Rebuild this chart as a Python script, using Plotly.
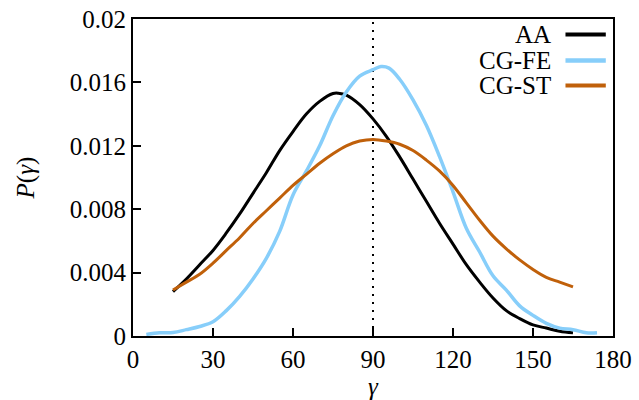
import plotly.graph_objects as go

# ---- data ----
aa_x = [15, 20, 25, 30, 35, 40, 45, 50, 55, 60, 65, 70, 75, 77, 80, 85, 90, 95, 100,
        105, 110, 115, 120, 125, 130, 135, 140, 145, 150, 155, 160, 165]
aa_y = [0.0028, 0.0036, 0.0045, 0.0054, 0.0065, 0.0077, 0.0090, 0.0103, 0.0117, 0.0129,
        0.0140, 0.0148, 0.0153, 0.01532, 0.0152, 0.0146, 0.0137, 0.0126, 0.0113,
        0.0099, 0.0085, 0.0071, 0.0058, 0.0045, 0.0034, 0.0024, 0.0016, 0.0011,
        0.0007, 0.0005, 0.0003, 0.0002]

fe_x = [5, 10, 15, 20, 25, 30, 35, 40, 45, 50, 55, 60, 65, 70, 75, 80, 85, 90, 93, 96,
        100, 105, 110, 115, 120, 125, 130, 135, 140, 145, 150, 155, 160, 165, 170, 174]
fe_y = [0.0001, 0.0002, 0.00022, 0.0004, 0.0006, 0.0009, 0.0016, 0.0025, 0.0036, 0.0049,
        0.0066, 0.0089, 0.0104, 0.0120, 0.0139, 0.0154, 0.0164, 0.0168, 0.0170, 0.0169,
        0.0162, 0.0149, 0.0133, 0.0113, 0.0091, 0.0068, 0.0053, 0.0038, 0.0029, 0.0019,
        0.0013, 0.0008, 0.0005, 0.0004, 0.0002, 0.0002]

st_x = [15, 20, 25, 30, 35, 40, 45, 50, 55, 60, 65, 70, 75, 80, 85, 90, 95, 100, 105,
        110, 115, 120, 125, 130, 135, 140, 145, 150, 155, 160, 165]
st_y = [0.0029, 0.0034, 0.0039, 0.0046, 0.0054, 0.0062, 0.0071, 0.0079, 0.0087, 0.0095,
        0.0102, 0.0109, 0.0115, 0.0120, 0.0123, 0.0124, 0.0123, 0.0121, 0.0117, 0.0111,
        0.0104, 0.0095, 0.0084, 0.0073, 0.0063, 0.0055, 0.0048, 0.0042, 0.0037, 0.0034,
        0.0031]

ref_x = [90, 90]
ref_y = [0, 0.02]

x_ticks = [0, 30, 60, 90, 120, 150, 180]
y_ticks = [0, 0.004, 0.008, 0.012, 0.016, 0.02]
y_ticktext = ["0", "0.004", "0.008", "0.012", "0.016", "0.02"]

names = ["AA", "CG-FE", "CG-ST"]
colors = ["#000000", "#87CEFA", "#C0600A"]
widths = [3, 3.5, 3]

FONT = "Times New Roman, Liberation Serif, serif"

fig = go.Figure()
fig.add_trace(go.Scatter(x=ref_x, y=ref_y, mode="lines",
                         line=dict(color="black", width=2, dash="2px,6px"),
                         showlegend=False, hoverinfo="skip"))
for xs, ys, c, w, n in [(aa_x, aa_y, colors[0], widths[0], names[0]),
                        (fe_x, fe_y, colors[1], widths[1], names[1]),
                        (st_x, st_y, colors[2], widths[2], names[2])]:
    fig.add_trace(go.Scatter(x=xs, y=ys, mode="lines", name=n,
                             line=dict(color=c, width=w, shape="spline", smoothing=1.0),
                             showlegend=False))

# custom legend: right-aligned text with line samples on the right
leg_y = [0.951, 0.869, 0.790]
annotations = []
shapes = []
for n, c, w, yy in zip(names, colors, widths, leg_y):
    annotations.append(dict(x=0.876, y=yy, xref="paper", yref="paper", text=n,
                            showarrow=False, xanchor="right", yanchor="middle",
                            font=dict(family=FONT, size=25, color="black")))
    shapes.append(dict(type="line", xref="paper", yref="paper", x0=0.901, x1=0.985,
                       y0=yy, y1=yy, line=dict(color=c, width=w + 1)))

fig.update_layout(
    width=639, height=400,
    margin=dict(l=133, r=26, t=19, b=64, autoexpand=False),
    paper_bgcolor="white", plot_bgcolor="white",
    font=dict(family=FONT, size=25, color="black"),
    annotations=annotations, shapes=shapes,
    showlegend=False,
)
fig.update_xaxes(range=[0, 180], tickvals=x_ticks, ticks="inside", ticklen=8,
                 tickwidth=1.5, tickcolor="black", showline=True, linecolor="black",
                 linewidth=2, mirror=True, showgrid=False, zeroline=False,
                 automargin=False,
                 title=dict(text="<i>γ</i>", standoff=2, font=dict(size=25)))
fig.update_yaxes(range=[0, 0.02], tickvals=y_ticks, ticktext=y_ticktext, ticks="inside",
                 ticklen=8, tickwidth=1.5, tickcolor="black", showline=True,
                 linecolor="black", linewidth=2, mirror=True, showgrid=False,
                 zeroline=False, automargin=False,
                 title=dict(text="<i>P</i>(<i>γ</i>)", standoff=28, font=dict(size=25)))

fig.write_html("out.html")
